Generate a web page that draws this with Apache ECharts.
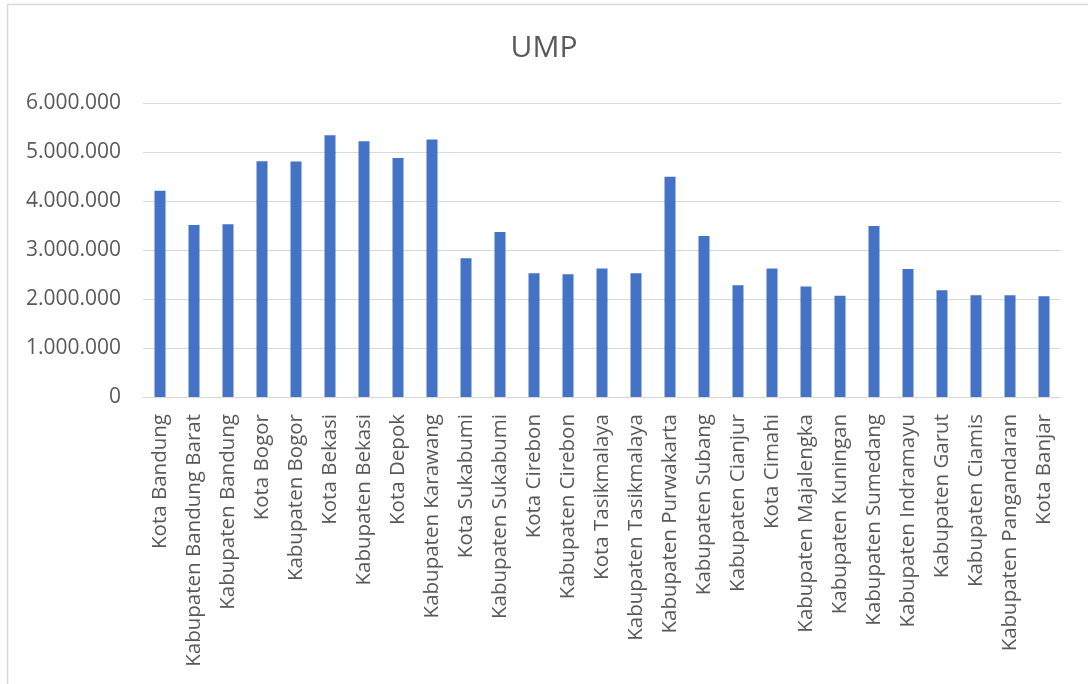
<!DOCTYPE html>
<html>
<head>
<meta charset="utf-8">
<title>UMP</title>
<script src="https://cdn.jsdelivr.net/npm/echarts@6/dist/echarts.min.js"></script>
<style>
  html, body { margin: 0; padding: 0; background: #ffffff; }
  #chart { width: 1088px; height: 684px; }
</style>
</head>
<body>
<div id="chart"></div>
<script>
// Regions of West Java (kota / kabupaten)
const categories = [
  'Kota Bandung', 'Kabupaten Bandung Barat', 'Kabupaten Bandung', 'Kota Bogor',
  'Kabupaten Bogor', 'Kota Bekasi', 'Kabupaten Bekasi', 'Kota Depok',
  'Kabupaten Karawang', 'Kota Sukabumi', 'Kabupaten Sukabumi', 'Kota Cirebon',
  'Kabupaten Cirebon', 'Kota Tasikmalaya', 'Kabupaten Tasikmalaya', 'Kabupaten Purwakarta',
  'Kabupaten Subang', 'Kabupaten Cianjur', 'Kota Cimahi', 'Kabupaten Majalengka',
  'Kabupaten Kuningan', 'Kabupaten Sumedang', 'Kabupaten Indramayu', 'Kabupaten Garut',
  'Kabupaten Ciamis', 'Kabupaten Pangandaran', 'Kota Banjar'
];

// Minimum wage per region (Rp)
const umpValues = [
  4209000, 3510000, 3527000, 4810000,
  4808000, 5343000, 5219000, 4878000,
  5257000, 2830000, 3366000, 2525000,
  2505000, 2620000, 2525000, 4496000,
  3286000, 2282000, 2620000, 2255000,
  2065000, 3492000, 2614000, 2180000,
  2075000, 2075000, 2058000
];

// Value axis ticks
const yTickMin = 0;
const yTickMax = 6000000;
const yTickStep = 1000000;

const chartTitle = 'UMP';

function formatThousands(v) {
  return String(Math.round(v)).replace(/\B(?=(\d{3})+(?!\d))/g, '.');
}

const chart = echarts.init(document.getElementById('chart'), null, { renderer: 'canvas' });

const FONT = '"Open Sans", "Noto Sans", sans-serif';
const TEXT_GRAY = '#595959';
const GRID_GRAY = '#d9d9d9';

chart.setOption({
  backgroundColor: '#ffffff',
  animation: false,
  textStyle: { fontFamily: FONT },
  graphic: [{
    type: 'rect',
    silent: true,
    z: -10,
    shape: { x: 7.5, y: 4.5, width: 1100, height: 700 },
    style: { fill: 'none', stroke: GRID_GRAY, lineWidth: 1.5 }
  }],
  title: {
    text: chartTitle,
    left: 'center',
    top: 28,
    textStyle: {
      fontFamily: FONT,
      fontSize: 30,
      fontWeight: 'normal',
      color: TEXT_GRAY
    }
  },
  grid: {
    left: 143,
    right: 27,
    top: 103,
    bottom: 287,
    containLabel: false
  },
  xAxis: {
    type: 'category',
    data: categories,
    axisLine: { show: true, lineStyle: { color: GRID_GRAY, width: 1 } },
    axisTick: { show: false },
    axisLabel: {
      interval: 0,
      rotate: 90,
      margin: 17,
      fontFamily: FONT,
      fontSize: 20.5,
      color: TEXT_GRAY
    }
  },
  yAxis: {
    type: 'value',
    min: yTickMin,
    max: yTickMax,
    interval: yTickStep,
    axisLine: { show: false },
    axisTick: { show: false },
    splitLine: { show: true, lineStyle: { color: GRID_GRAY, width: 1 } },
    axisLabel: {
      margin: 22,
      fontFamily: FONT,
      fontSize: 21,
      color: TEXT_GRAY,
      formatter: formatThousands
    }
  },
  series: [{
    name: chartTitle,
    type: 'bar',
    data: umpValues,
    barWidth: 11,
    itemStyle: { color: '#4472C4' }
  }]
});
</script>
</body>
</html>
